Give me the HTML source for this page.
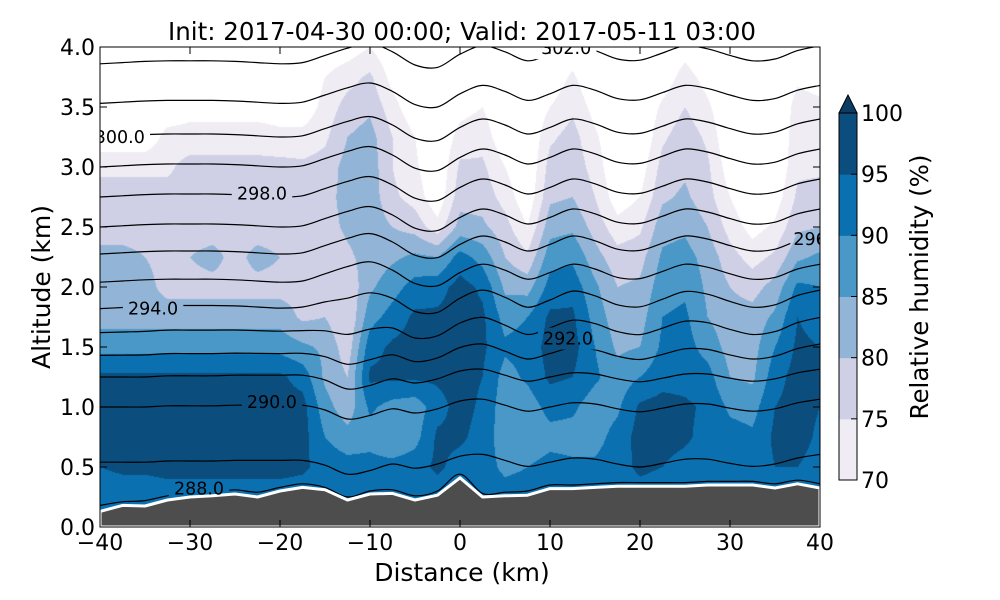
<!DOCTYPE html>
<html><head><meta charset="utf-8">
<style>
html,body{margin:0;padding:0;background:#fff;}
#wrap{position:relative;width:1000px;height:600px;overflow:hidden;font-family:"DejaVu Sans","Liberation Sans",sans-serif;}
canvas{position:absolute;left:100px;top:47px;}
svg{position:absolute;left:0;top:0;}
</style></head>
<body>
<div id="wrap">
<canvas id="rh" width="720" height="480"></canvas>
<svg id="svg" width="1000" height="600"></svg>
</div>
<script>
// ---- data ----
const distances = [-40,-37.5,-35,-32.5,-30,-27.5,-25,-22.5,-20,-17.5,-15,-12.5,-10,-7.5,-5,-2.5,0,2.5,5,7.5,10,12.5,15,17.5,20,22.5,25,27.5,30,32.5,35,37.5,40];
const altitudes = [0,0.25,0.5,0.75,1,1.25,1.5,1.75,2,2.25,2.5,2.75,3,3.25,3.5,3.75,4];
// RH per column (from z=0 upward)
const rhColumns = [
[92,92,95,97,97,96,88,83,82,82,77,77,74,66,65,65,65],
[92,92,96,97,97,96,88,83,82,82,77,77,74,66,65,65,65],
[92,92,96,97,97,96,88,83,82,80,77,77,74,66,65,65,65],
[92,92,97,97,97,96,88,83,78,78,77,77,74,72,66,65,65],
[92,92,97,97,97,96,88,83,78,80,77,77,77,72,68,65,65],
[92,92,97,97,97,96,88,83,78,82,77,77,77,72,68,65,65],
[92,92,97,97,97,96,88,83,78,78,77,77,77,72,68,65,65],
[92,92,97,97,97,96,88,83,78,82,77,77,77,72,68,65,65],
[92,92,97,97,97,96,88,83,78,80,77,77,77,71,68,65,65],
[92,92,96,97,97,93,86,79,78,79,77,77,76,72,66,65,65],
[92,92,93,90,87,84,84,80,75,76,78,78,77,74,72,70,66],
[93,93,92,87,82,80,77,75,76,79,81,82,82,80,77,73,67],
[92,92,92,88,91,96,93,88,84,82,83,83,83,82,79,76,70],
[92,92,92,85,88,96,96,92,88,84,80,76,75,75,72,68,65],
[92,92,93,88,87,96,97,96,92,86,78,73,71,70,66,65,65],
[92,92,96,96,93,96,97,96,93,85,72,66,65,65,65,65,65],
[92,92,93,96,97,97,97,97,97,92,82,78,76,72,68,65,65],
[92,92,92,93,94,95,96,96,94,88,81,78,76,73,70,66,65],
[92,92,89,87,87,88,91,88,84,80,77,73,70,66,65,65,65],
[92,92,90,86,87,91,92,90,83,76,70,66,65,65,65,65,65],
[93,93,92,88,92,96,97,96,92,88,83,79,77,74,70,66,65],
[92,92,91,88,91,95,97,96,93,89,84,80,78,77,74,71,66],
[92,92,91,88,87,91,90,88,86,82,78,75,73,71,68,65,65],
[92,92,93,92,89,87,84,82,80,77,72,67,65,65,65,65,65],
[93,93,96,97,96,90,85,83,81,78,74,70,67,65,65,65,65],
[92,92,95,97,97,93,91,90,88,86,83,79,77,74,71,67,65],
[92,92,93,96,96,93,92,91,89,87,84,81,79,78,75,72,68],
[92,92,92,93,94,92,88,85,84,83,80,77,76,74,71,68,65],
[92,92,92,92,89,85,83,82,80,77,73,70,67,65,65,65,65],
[92,92,92,91,88,84,83,82,78,73,68,65,65,65,65,65,65],
[92,92,95,96,95,93,90,86,82,76,71,67,65,65,65,65,65],
[92,92,95,97,97,97,96,95,91,84,79,76,74,73,72,69,65],
[92,92,93,94,95,96,95,93,90,86,80,77,74,73,71,68,65]
];
const rhLevels = [70,75,80,85,90,95];
const rhColors = ['#f0ecf4','#cfd0e6','#92b5d7','#4a98c8','#0a70b0','#0b4e7e'];
const cbTicks = [70,75,80,85,90,95,100];
const terrain = [0.13,0.18,0.175,0.225,0.25,0.26,0.275,0.25,0.30,0.33,0.31,0.225,0.275,0.28,0.225,0.265,0.41,0.25,0.26,0.265,0.32,0.32,0.33,0.34,0.34,0.34,0.34,0.35,0.35,0.35,0.325,0.36,0.325];
// theta contour shapes
const dispUpper = [0,0.01,0.02,0.025,0.025,0.025,0.02,0.01,0,0.01,0.07,0.13,0.17,0.10,-0.01,-0.03,0.08,0.15,0.10,0.025,0.08,0.15,0.11,0.04,0.03,0.09,0.15,0.125,0.07,0.025,0.04,0.11,0.15];
const dispLower = [0,0,0,0.01,0.01,0.01,0.015,0.015,0.015,0.015,-0.025,-0.10,-0.07,-0.015,-0.05,-0.015,0.05,0.065,0.015,-0.035,0,0.035,0.025,-0.015,-0.04,-0.01,0.025,0.025,-0.01,-0.035,-0.015,0.035,0.065];
const thetaBase = [3.86,3.53,3.25,3.00,2.75,2.50,2.275,2.04,1.82,1.62,1.43,1.25,1.00,0.54];
const thetaAmpUpper = [1,1,1,1,1,1,1,1,0.9,0.5,0.2,0,0,0];
const thetaAmpLower = [0,0,0,0,0,0,0,0,0.3,0.8,1,1,1,1];
const theta288 = [0.18,0.21,0.22,0.26,0.28,0.29,0.31,0.29,0.33,0.36,0.33,0.25,0.30,0.31,0.26,0.30,0.44,0.28,0.29,0.30,0.35,0.35,0.36,0.37,0.37,0.37,0.37,0.38,0.38,0.38,0.36,0.39,0.36];
const contourLabels = ['302.0','300.0','298.0','296','294.0','292.0','290.0','288.0'];
const labelDist = [11.8,-37.8,-22,38.9,-34.1,12,-20.9,-29];
const labelAlt = [3.99,3.25,2.78,2.40,1.82,1.57,1.04,0.32];
const xTicks = [-40,-30,-20,-10,0,10,20,30,40];
const yTicks = [0,0.5,1,1.5,2,2.5,3,3.5,4];

// ---- axes ----
const X0=100,X1=820,Y0=527,Y1=47;
function xs(d){return X0+(d+40)/80*(X1-X0);}
function ys(z){return Y0-z/4*(Y0-Y1);}
function cbY(v){return 480-(v-70)/30*(480-113);}

// ---- heatmap ----
const cv=document.getElementById('rh');const ctx=cv.getContext('2d');
const img=ctx.createImageData(720,480);
const rgb=rhColors.map(h=>[parseInt(h.slice(1,3),16),parseInt(h.slice(3,5),16),parseInt(h.slice(5,7),16)]);
const nC=distances.length,nR=altitudes.length;
for(let py=0;py<480;py++){
  const z=(480-py-0.5)/120;
  const r=Math.min(nR-1.0001,Math.max(0,z/0.25));const r0=Math.floor(r),fr=r-r0;
  for(let px=0;px<720;px++){
    const d=-40+(px+0.5)/9;
    const c=Math.min(nC-1.0001,Math.max(0,(d+40)/2.5));const c0=Math.floor(c),fc=c-c0;
    const v=(rhColumns[c0][r0]*(1-fc)+rhColumns[c0+1][r0]*fc)*(1-fr)+(rhColumns[c0][r0+1]*(1-fc)+rhColumns[c0+1][r0+1]*fc)*fr;
    let k=-1;for(let i=0;i<rhLevels.length;i++){if(v>=rhLevels[i])k=i;}
    const o=(py*720+px)*4;
    if(k<0){img.data[o]=255;img.data[o+1]=255;img.data[o+2]=255;}
    else{img.data[o]=rgb[k][0];img.data[o+1]=rgb[k][1];img.data[o+2]=rgb[k][2];}
    img.data[o+3]=255;
  }
}
ctx.putImageData(img,0,0);

// ---- svg ----
const NS='http://www.w3.org/2000/svg';const svg=document.getElementById('svg');
function mk(tag,attrs,parent){const e=document.createElementNS(NS,tag);for(const k in attrs)e.setAttribute(k,attrs[k]);(parent||svg).appendChild(e);return e;}
function smooth(pts){let s='M'+pts[0][0].toFixed(1)+','+pts[0][1].toFixed(1);
  for(let i=0;i<pts.length-1;i++){const p0=pts[Math.max(0,i-1)],p1=pts[i],p2=pts[i+1],p3=pts[Math.min(pts.length-1,i+2)];
    const c1=[p1[0]+(p2[0]-p0[0])/6,p1[1]+(p2[1]-p0[1])/6],c2=[p2[0]-(p3[0]-p1[0])/6,p2[1]-(p3[1]-p1[1])/6];
    s+='C'+c1[0].toFixed(1)+','+c1[1].toFixed(1)+' '+c2[0].toFixed(1)+','+c2[1].toFixed(1)+' '+p2[0].toFixed(1)+','+p2[1].toFixed(1);}
  return s;}
const defs=mk('defs',{});
const cp=mk('clipPath',{id:'plotclip'},defs);mk('rect',{x:X0,y:Y1,width:X1-X0,height:Y0-Y1},cp);
const mask=mk('mask',{id:'lblmask',maskUnits:'userSpaceOnUse',x:0,y:0,width:1000,height:600},defs);
mk('rect',{x:0,y:0,width:1000,height:600,fill:'#fff'},mask);
const plot=mk('g',{'clip-path':'url(#plotclip)'});

const lines=mk('g',{mask:'url(#lblmask)',fill:'none',stroke:'#000','stroke-width':1.2},plot);

for(let j=0;j<thetaBase.length;j++){
  const pts=distances.map((d,i)=>[xs(d),ys(thetaBase[j]+thetaAmpUpper[j]*dispUpper[i]+thetaAmpLower[j]*dispLower[i])]);
  const p=mk('path',{d:smooth(pts)},lines);
  
  
}
{const pts=distances.map((d,i)=>[xs(d),ys(theta288[i])]);
 const p=mk('path',{d:smooth(pts)},lines);
 
 }
// terrain
{let dstr='M'+xs(distances[0])+','+Y0;distances.forEach((d,i)=>{dstr+='L'+xs(d).toFixed(1)+','+ys(terrain[i]).toFixed(1);});dstr+='L'+xs(distances[distances.length-1])+','+Y0+'Z';
 const t=mk('path',{d:dstr,fill:'#4d4d4d',stroke:'#fff','stroke-width':3,'stroke-linejoin':'round'},plot);
 
 }
// contour labels
contourLabels.forEach((s,i)=>{
  const x=xs(labelDist[i]),y=ys(labelAlt[i]);const w=s.length*10.5+8;
  mk('rect',{x:x-w/2,y:y-11,width:w,height:22,fill:'#000'},mask);
  const t=mk('text',{x:x,y:y+6,'text-anchor':'middle','font-size':17.5,fill:'#000'},plot);
  t.textContent=s;
  
  
});
// frame
const fr=mk('rect',{x:X0,y:Y1,width:X1-X0,height:Y0-Y1,fill:'none',stroke:'#000','stroke-width':1});

// ticks
xTicks.forEach(v=>{const x=xs(v);
  mk('line',{x1:x,y1:Y0,x2:x,y2:Y0-7,stroke:'#000'});mk('line',{x1:x,y1:Y1,x2:x,y2:Y1+7,stroke:'#000'});
  const t=mk('text',{x:x,y:550,'text-anchor':'middle','font-size':22});t.textContent=(v<0?'\u2212'+(-v):String(v));
  });
yTicks.forEach(v=>{const y=ys(v);
  mk('line',{x1:X0,y1:y,x2:X0+7,y2:y,stroke:'#000'});mk('line',{x1:X1,y1:y,x2:X1-7,y2:y,stroke:'#000'});
  const t=mk('text',{x:95,y:y+8,'text-anchor':'end','font-size':22});t.textContent=v.toFixed(1);
  });
// titles
{const t=mk('text',{x:462,y:40,'text-anchor':'middle','font-size':24.5});t.textContent='Init: 2017-04-30 00:00; Valid: 2017-05-11 03:00';
 }
{const t=mk('text',{x:462,y:581,'text-anchor':'middle','font-size':25});t.textContent='Distance (km)';
 }
{const t=mk('text',{x:0,y:0,'text-anchor':'middle','font-size':25,transform:'translate(50,287) rotate(-90)'});t.textContent='Altitude (km)';
 }
// colorbar
const cb=mk('g',{});
rhLevels.forEach((v,i)=>{const top=cbY(v+5),bot=cbY(v);
  const r=mk('rect',{x:839,y:top,width:18,height:bot-top+0.5,fill:rhColors[i]},cb);
  });
{const tr=mk('polygon',{points:'839,'+cbY(100)+' 848,95 857,'+cbY(100),fill:'#0b3d62',stroke:'#000','stroke-width':1},cb);
 }
mk('rect',{x:839,y:cbY(100),width:18,height:cbY(70)-cbY(100),fill:'none',stroke:'#000','stroke-width':1},cb);
cbTicks.forEach(v=>{const y=cbY(v);mk('line',{x1:851,y1:y,x2:857,y2:y,stroke:'#000'},cb);
  const t=mk('text',{x:861,y:y+8,'font-size':22},cb);t.textContent=String(v);
  });
{const t=mk('text',{x:0,y:0,'text-anchor':'middle','font-size':24.5,transform:'translate(928,287) rotate(-90)'},cb);t.textContent='Relative humidity (%)';
 }
</script>
</body></html>
